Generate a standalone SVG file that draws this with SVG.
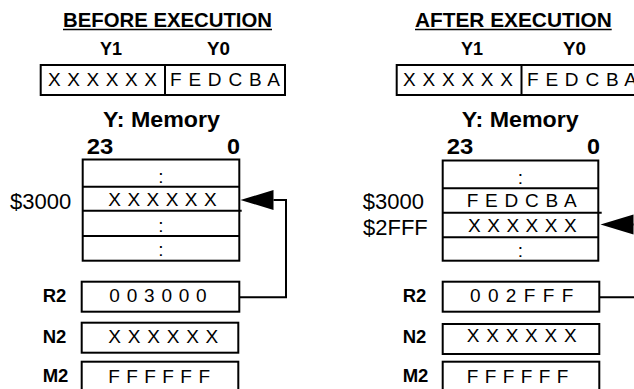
<svg xmlns="http://www.w3.org/2000/svg" width="634" height="389" viewBox="0 0 634 389">
  <style>
    text { font-family: "Liberation Sans", Arial, Helvetica, sans-serif; fill: #000; }
    .title { font-size: 20px; font-weight: bold; }
    .head { font-size: 18.5px; font-weight: bold; }
    .mem { font-size: 22px; font-weight: bold; }
    .val { font-size: 19px; }
    .addr { font-size: 22px; }
    .colon { font-size: 19px; text-anchor: middle; }
    .box { fill: #fff; stroke: #000; stroke-width: 2; }
    .rule { stroke: #000; stroke-width: 2; fill: none; }
    .uline { stroke: #000; stroke-width: 1.5; }
    .wire { stroke: #000; stroke-width: 2; fill: none; }
  </style>
  <defs>
    <marker id="arrow" markerUnits="userSpaceOnUse" markerWidth="34" markerHeight="22" viewBox="0 -11 34 22" refX="0" refY="0" orient="auto">
      <path d="M0,-10 L33,0 L0,10 Z" fill="#000"/>
    </marker>
  </defs>
  <rect width="634" height="389" fill="#fff"/>

  <!-- ===== Before execution ===== -->
  <g id="before-title">
    <text class="title" x="63" y="27" textLength="209" lengthAdjust="spacingAndGlyphs">BEFORE EXECUTION</text>
    <line class="uline" x1="63" y1="29.5" x2="272" y2="29.5"/>
  </g>

  <g id="before-y-register">
    <text class="head" x="100" y="55" textLength="22" lengthAdjust="spacingAndGlyphs">Y1</text>
    <text class="head" x="207" y="55" textLength="23" lengthAdjust="spacingAndGlyphs">Y0</text>
    <rect class="box" x="40.7" y="65" width="244.3" height="30"/>
    <line class="rule" x1="165" y1="65" x2="165" y2="95"/>
    <text class="val" x="48" y="86" textLength="109" lengthAdjust="spacing">X X X X X X</text>
    <text class="val" x="170" y="86" textLength="110" lengthAdjust="spacing">F E D C B A</text>
  </g>

  <g id="before-memory">
    <text class="mem" x="103" y="126.5" textLength="117" lengthAdjust="spacingAndGlyphs">Y: Memory</text>
    <text class="mem" x="86.7" y="154" textLength="26.5" lengthAdjust="spacingAndGlyphs">23</text>
    <text class="mem" x="227" y="154" textLength="13" lengthAdjust="spacingAndGlyphs">0</text>
    <rect class="box" x="82.7" y="159.5" width="156.6" height="101.2"/>
    <line class="rule" x1="82.7" y1="186.7" x2="239.3" y2="186.7"/>
    <line class="rule" x1="82.7" y1="210.7" x2="241.7" y2="210.7"/>
    <line class="rule" x1="82.7" y1="236" x2="239.3" y2="236"/>
    <text class="colon" x="161" y="183">:</text>
    <text class="val" x="108.3" y="206" textLength="108.4" lengthAdjust="spacing">X X X X X X</text>
    <text class="colon" x="161" y="232">:</text>
    <text class="colon" x="161" y="256">:</text>
    <text class="addr" x="10" y="208.5">$3000</text>
  </g>

  <g id="before-r2">
    <text class="head" x="42.7" y="301.7">R2</text>
    <rect class="box" x="81.7" y="281.7" width="157.6" height="30"/>
    <text class="val" x="109.3" y="301.7" textLength="97.4" lengthAdjust="spacing">0 0 3 0 0 0</text>
  </g>

  <g id="before-n2">
    <text class="head" x="42.7" y="342.7">N2</text>
    <rect class="box" x="81.7" y="322.7" width="156.6" height="30"/>
    <text class="val" x="108.3" y="343.3" textLength="110" lengthAdjust="spacing">X X X X X X</text>
  </g>

  <g id="before-m2">
    <text class="head" x="42.7" y="382">M2</text>
    <rect class="box" x="81.7" y="361.7" width="156.6" height="30"/>
    <text class="val" x="108.3" y="383" textLength="101.7" lengthAdjust="spacing">F F F F F F</text>
  </g>

  <!-- ===== After execution ===== -->
  <g id="after-title">
    <text class="title" x="415" y="27" textLength="196.7" lengthAdjust="spacingAndGlyphs">AFTER EXECUTION</text>
    <line class="uline" x1="415" y1="29.5" x2="611.7" y2="29.5"/>
  </g>

  <g id="after-y-register">
    <text class="head" x="461" y="55" textLength="22" lengthAdjust="spacingAndGlyphs">Y1</text>
    <text class="head" x="563" y="55" textLength="23" lengthAdjust="spacingAndGlyphs">Y0</text>
    <rect class="box" x="396.7" y="65" width="244.3" height="30"/>
    <line class="rule" x1="521.5" y1="65" x2="521.5" y2="95"/>
    <text class="val" x="403" y="86" textLength="110" lengthAdjust="spacing">X X X X X X</text>
    <text class="val" x="527" y="86" textLength="110" lengthAdjust="spacing">F E D C B A</text>
  </g>

  <g id="after-memory">
    <text class="mem" x="461.7" y="126.5" textLength="117" lengthAdjust="spacingAndGlyphs">Y: Memory</text>
    <text class="mem" x="446.7" y="154" textLength="26.5" lengthAdjust="spacingAndGlyphs">23</text>
    <text class="mem" x="587" y="154" textLength="13" lengthAdjust="spacingAndGlyphs">0</text>
    <rect class="box" x="442.7" y="160.5" width="155.6" height="100.2"/>
    <line class="rule" x1="442.7" y1="188.3" x2="598.3" y2="188.3"/>
    <line class="rule" x1="442.7" y1="212.7" x2="601.7" y2="212.7"/>
    <line class="rule" x1="442.7" y1="237.3" x2="598.3" y2="237.3"/>
    <text class="colon" x="520.5" y="184">:</text>
    <text class="val" x="466.7" y="207.3" textLength="110" lengthAdjust="spacing">F E D C B A</text>
    <text class="val" x="468" y="231.7" textLength="108.7" lengthAdjust="spacing">X X X X X X</text>
    <text class="colon" x="520.5" y="257">:</text>
    <text class="addr" x="362.7" y="208.5">$3000</text>
    <text class="addr" x="363" y="234.5">$2FFF</text>
  </g>

  <g id="after-r2">
    <text class="head" x="402.7" y="301.7">R2</text>
    <rect class="box" x="442.7" y="281.7" width="156.6" height="30"/>
    <text class="val" x="470" y="301.7" textLength="103.3" lengthAdjust="spacing">0 0 2 F F F</text>
  </g>

  <g id="after-n2">
    <text class="head" x="402.7" y="342.7">N2</text>
    <rect class="box" x="442.7" y="324" width="156.6" height="30"/>
    <text class="val" x="466.7" y="342" textLength="110" lengthAdjust="spacing">X X X X X X</text>
  </g>

  <g id="after-m2">
    <text class="head" x="402.7" y="382">M2</text>
    <rect class="box" x="442.7" y="361.7" width="156.6" height="30"/>
    <text class="val" x="466.7" y="383" textLength="101.7" lengthAdjust="spacing">F F F F F F</text>
  </g>

  <!-- R2 points at the memory word it addresses -->
  <g id="connectors">
    <path class="wire" d="M239.3,297.3 H286 V200 H273.5" marker-end="url(#arrow)"/>
    <path class="wire" d="M599.3,297.3 H646 V224.5 H633.5" marker-end="url(#arrow)"/>
  </g>
</svg>
